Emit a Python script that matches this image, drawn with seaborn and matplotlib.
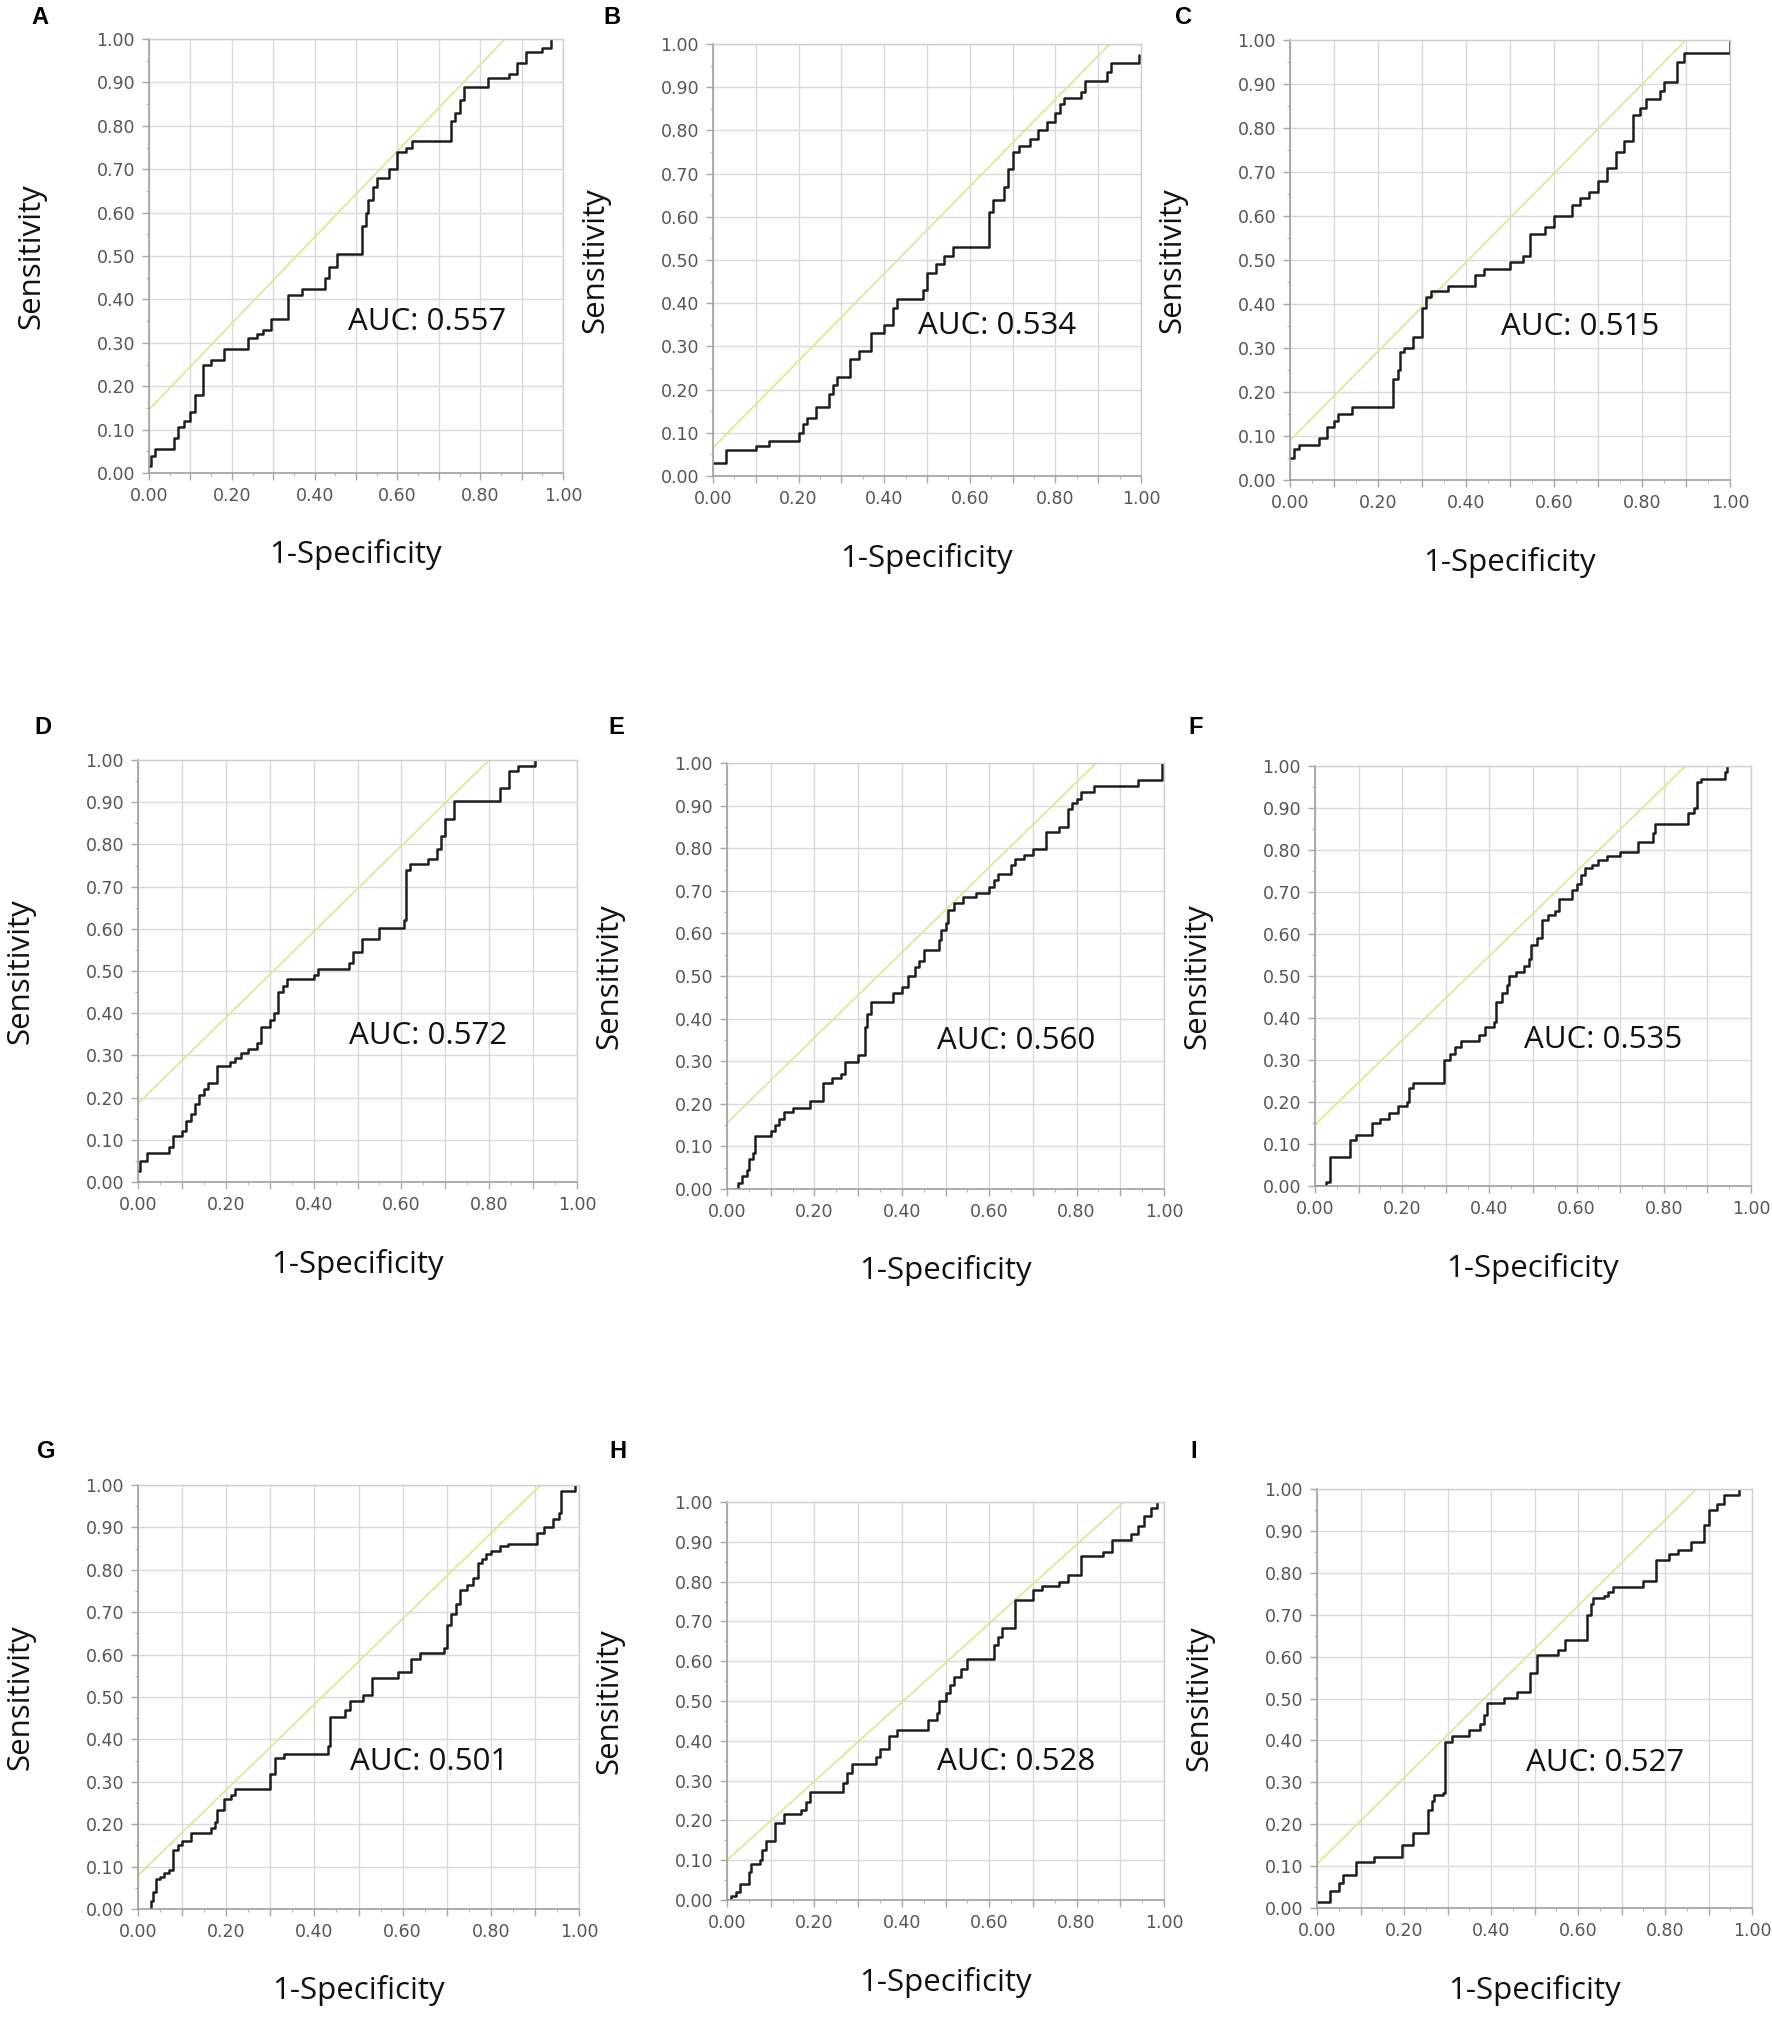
import matplotlib
matplotlib.use("Agg")
import matplotlib.pyplot as plt
from matplotlib.ticker import MultipleLocator, FixedLocator
import seaborn as sns

sns.set_theme(style="white")
plt.rcParams['font.family'] = ['Open Sans', 'DejaVu Sans']

# ---- data (step vertices: fpr, tpr) ----
panel_ids = ["A", "B", "C", "D", "E", "F", "G", "H", "I"]
auc_labels = ["0.557", "0.534", "0.515", "0.572", "0.560", "0.535", "0.501", "0.528", "0.527"]

fpr_a = [0.00, 0.005, 0.015, 0.06, 0.07, 0.085, 0.10, 0.11, 0.13, 0.15, 0.18, 0.24, 0.26, 0.275, 0.295,
         0.335, 0.37, 0.425, 0.435, 0.455, 0.515, 0.525, 0.53, 0.54, 0.55, 0.58, 0.60, 0.62, 0.635,
         0.73, 0.74, 0.75, 0.76, 0.82, 0.87, 0.89, 0.91, 0.95, 0.97]
tpr_a = [0.015, 0.04, 0.055, 0.08, 0.105, 0.12, 0.14, 0.18, 0.25, 0.26, 0.285, 0.31, 0.32, 0.33, 0.355,
         0.41, 0.425, 0.45, 0.475, 0.505, 0.57, 0.60, 0.63, 0.66, 0.68, 0.70, 0.74, 0.75, 0.765,
         0.81, 0.83, 0.86, 0.89, 0.91, 0.92, 0.945, 0.97, 0.98, 1.00]

fpr_b = [0.00, 0.03, 0.10, 0.13, 0.20, 0.21, 0.22, 0.24, 0.27, 0.28, 0.29, 0.32, 0.34, 0.37, 0.40, 0.42,
         0.43, 0.49, 0.50, 0.52, 0.54, 0.56, 0.645, 0.655, 0.68, 0.69, 0.70, 0.715, 0.74, 0.76, 0.78,
         0.80, 0.81, 0.82, 0.86, 0.87, 0.92, 0.93, 0.995]
tpr_b = [0.03, 0.06, 0.07, 0.08, 0.10, 0.12, 0.135, 0.16, 0.19, 0.21, 0.23, 0.27, 0.29, 0.33, 0.35, 0.39,
         0.41, 0.43, 0.47, 0.49, 0.51, 0.53, 0.61, 0.64, 0.67, 0.71, 0.75, 0.765, 0.78, 0.80, 0.82,
         0.84, 0.86, 0.875, 0.89, 0.915, 0.935, 0.955, 0.975]

fpr_c = [0.00, 0.01, 0.02, 0.065, 0.085, 0.10, 0.11, 0.14, 0.235, 0.245, 0.25, 0.26, 0.28, 0.30, 0.31,
         0.32, 0.36, 0.42, 0.44, 0.50, 0.53, 0.545, 0.58, 0.60, 0.64, 0.66, 0.68, 0.70, 0.72, 0.74,
         0.76, 0.78, 0.795, 0.81, 0.84, 0.85, 0.88, 0.895, 1.00]
tpr_c = [0.05, 0.07, 0.08, 0.095, 0.12, 0.135, 0.15, 0.165, 0.23, 0.25, 0.29, 0.30, 0.325, 0.39, 0.415,
         0.43, 0.44, 0.465, 0.48, 0.495, 0.51, 0.56, 0.575, 0.60, 0.625, 0.64, 0.655, 0.68, 0.71, 0.745,
         0.77, 0.83, 0.845, 0.865, 0.885, 0.905, 0.95, 0.97, 1.00]

fpr_d = [0.00, 0.005, 0.02, 0.07, 0.08, 0.10, 0.11, 0.12, 0.13, 0.14, 0.15, 0.16, 0.18, 0.21, 0.22,
         0.235, 0.25, 0.27, 0.28, 0.30, 0.31, 0.32, 0.33, 0.34, 0.40, 0.41, 0.48, 0.49, 0.51, 0.55,
         0.605, 0.61, 0.62, 0.66, 0.68, 0.69, 0.70, 0.72, 0.825, 0.845, 0.865, 0.905]
tpr_d = [0.025, 0.05, 0.068, 0.082, 0.11, 0.12, 0.145, 0.16, 0.185, 0.205, 0.22, 0.235, 0.275, 0.285,
         0.295, 0.305, 0.315, 0.33, 0.367, 0.385, 0.40, 0.45, 0.465, 0.48, 0.49, 0.505, 0.52, 0.545,
         0.576, 0.603, 0.62, 0.739, 0.754, 0.765, 0.79, 0.82, 0.861, 0.902, 0.934, 0.975, 0.985, 1.00]

fpr_e = [0.015, 0.025, 0.035, 0.045, 0.05, 0.06, 0.065, 0.10, 0.11, 0.12, 0.13, 0.15, 0.19, 0.22, 0.24,
         0.26, 0.27, 0.30, 0.315, 0.32, 0.33, 0.38, 0.40, 0.415, 0.43, 0.44, 0.45, 0.485, 0.49, 0.50,
         0.505, 0.52, 0.54, 0.57, 0.60, 0.61, 0.62, 0.65, 0.66, 0.68, 0.70, 0.73, 0.76, 0.78, 0.79,
         0.80, 0.81, 0.84, 0.94, 0.995]
tpr_e = [0.00, 0.015, 0.03, 0.045, 0.07, 0.085, 0.124, 0.135, 0.151, 0.165, 0.18, 0.191, 0.207, 0.25,
         0.26, 0.27, 0.299, 0.315, 0.38, 0.41, 0.438, 0.461, 0.475, 0.501, 0.52, 0.535, 0.56, 0.585,
         0.609, 0.625, 0.654, 0.672, 0.685, 0.695, 0.71, 0.725, 0.74, 0.76, 0.775, 0.785, 0.798,
         0.838, 0.85, 0.892, 0.905, 0.915, 0.933, 0.946, 0.96, 1.00]

fpr_f = [0.00, 0.025, 0.035, 0.08, 0.095, 0.13, 0.15, 0.17, 0.19, 0.21, 0.215, 0.225, 0.295, 0.31, 0.32,
         0.335, 0.375, 0.39, 0.41, 0.415, 0.43, 0.44, 0.445, 0.46, 0.48, 0.49, 0.495, 0.51, 0.52,
         0.535, 0.55, 0.56, 0.59, 0.60, 0.61, 0.62, 0.635, 0.65, 0.67, 0.70, 0.74, 0.775, 0.78, 0.855,
         0.87, 0.875, 0.885, 0.94, 0.945]
tpr_f = [0.00, 0.01, 0.07, 0.109, 0.121, 0.15, 0.16, 0.175, 0.19, 0.20, 0.234, 0.246, 0.30, 0.315, 0.33,
         0.346, 0.36, 0.378, 0.39, 0.437, 0.46, 0.478, 0.50, 0.51, 0.525, 0.54, 0.574, 0.59, 0.633,
         0.645, 0.655, 0.683, 0.705, 0.72, 0.74, 0.756, 0.765, 0.775, 0.785, 0.795, 0.82, 0.84, 0.861,
         0.888, 0.90, 0.961, 0.97, 0.985, 1.00]

fpr_g = [0.025, 0.03, 0.035, 0.04, 0.05, 0.06, 0.07, 0.08, 0.09, 0.10, 0.12, 0.165, 0.175, 0.18, 0.195,
         0.21, 0.22, 0.30, 0.31, 0.33, 0.43, 0.435, 0.47, 0.48, 0.51, 0.53, 0.59, 0.62, 0.64, 0.695,
         0.70, 0.71, 0.72, 0.73, 0.745, 0.76, 0.77, 0.78, 0.79, 0.80, 0.82, 0.84, 0.905, 0.92, 0.94,
         0.955, 0.96, 0.99]
tpr_g = [0.00, 0.02, 0.04, 0.07, 0.075, 0.085, 0.093, 0.138, 0.15, 0.16, 0.179, 0.19, 0.205, 0.233, 0.26,
         0.27, 0.284, 0.319, 0.356, 0.365, 0.385, 0.454, 0.47, 0.49, 0.505, 0.544, 0.56, 0.589, 0.603,
         0.615, 0.67, 0.695, 0.72, 0.752, 0.765, 0.78, 0.815, 0.825, 0.837, 0.845, 0.855, 0.86, 0.887,
         0.90, 0.92, 0.935, 0.987, 1.00]

fpr_h = [0.00, 0.01, 0.02, 0.03, 0.05, 0.055, 0.075, 0.08, 0.09, 0.11, 0.13, 0.17, 0.18, 0.19, 0.265,
         0.275, 0.285, 0.34, 0.35, 0.37, 0.39, 0.46, 0.48, 0.485, 0.50, 0.51, 0.52, 0.535, 0.55, 0.61,
         0.62, 0.63, 0.66, 0.70, 0.72, 0.76, 0.78, 0.81, 0.86, 0.88, 0.925, 0.94, 0.955, 0.97, 0.985]
tpr_h = [0.00, 0.01, 0.02, 0.04, 0.07, 0.091, 0.10, 0.125, 0.149, 0.194, 0.216, 0.225, 0.245, 0.271,
         0.295, 0.32, 0.341, 0.36, 0.38, 0.413, 0.428, 0.452, 0.47, 0.50, 0.52, 0.54, 0.56, 0.58, 0.606,
         0.64, 0.66, 0.683, 0.755, 0.78, 0.788, 0.80, 0.817, 0.865, 0.875, 0.904, 0.92, 0.94, 0.965,
         0.985, 1.00]

fpr_i = [0.00, 0.03, 0.05, 0.06, 0.09, 0.13, 0.195, 0.22, 0.255, 0.265, 0.27, 0.29, 0.295, 0.31, 0.35,
         0.375, 0.385, 0.39, 0.43, 0.46, 0.49, 0.505, 0.555, 0.57, 0.62, 0.63, 0.635, 0.66, 0.67, 0.68,
         0.75, 0.78, 0.81, 0.83, 0.86, 0.89, 0.90, 0.92, 0.935, 0.97]
tpr_i = [0.014, 0.041, 0.06, 0.079, 0.11, 0.121, 0.151, 0.18, 0.233, 0.255, 0.269, 0.275, 0.397, 0.41,
         0.425, 0.44, 0.46, 0.49, 0.502, 0.516, 0.562, 0.603, 0.615, 0.639, 0.699, 0.725, 0.74, 0.745,
         0.755, 0.767, 0.78, 0.831, 0.845, 0.855, 0.873, 0.913, 0.95, 0.965, 0.986, 1.00]

# yellow reference line: sensitivity at fpr=0, and fpr where it reaches 1.0
ref_start = [0.146, 0.065, 0.09, 0.186, 0.155, 0.146, 0.079, 0.10, 0.105]
ref_end = [0.86, 0.927, 0.90, 0.80, 0.845, 0.85, 0.913, 0.908, 0.872]

tick_vals = [0.0, 0.1, 0.2, 0.3, 0.4, 0.5, 0.6, 0.7, 0.8, 0.9, 1.0]

fprs = [fpr_a, fpr_b, fpr_c, fpr_d, fpr_e, fpr_f, fpr_g, fpr_h, fpr_i]
tprs = [tpr_a, tpr_b, tpr_c, tpr_d, tpr_e, tpr_f, tpr_g, tpr_h, tpr_i]

# ---- layout (pixel boxes: left, top, right, bottom) ----
W, H = 1772, 2034
boxes = [(149, 39, 563, 473), (713, 44, 1141, 476), (1290, 40, 1730, 480),
         (138, 760, 577, 1182), (727, 763, 1164, 1189), (1315, 766, 1751, 1186),
         (138, 1485, 579, 1909), (727, 1502, 1164, 1900), (1317, 1489, 1752, 1908)]
letter_pos = [(40, 17), (612, 17), (1184, 17), (43, 727), (616, 727), (1196, 727),
              (46, 1452), (618, 1452), (1194, 1452)]

fig = plt.figure(figsize=(W / 100, H / 100), dpi=100)
fig.patch.set_facecolor("white")

for k in range(9):
    l, t, r, b = boxes[k]
    ax = fig.add_axes([l / W, 1 - b / H, (r - l) / W, (b - t) / H])
    ax.set_facecolor("white")

    sns.lineplot(x=[0.0, ref_end[k]], y=[ref_start[k], 1.0], ax=ax, color="#e2e696", lw=1.3)
    sns.lineplot(x=fprs[k], y=tprs[k], ax=ax, color="#1e1e1e", lw=1.8,
                 sort=False, estimator=None, drawstyle="steps-post")

    ax.set_xlim(0, 1)
    ax.set_ylim(0, 1)
    ax.xaxis.set_major_locator(FixedLocator(tick_vals))
    ax.yaxis.set_major_locator(FixedLocator(tick_vals))
    ax.set_xticklabels([f"{v:.2f}" if i % 2 == 0 else "" for i, v in enumerate(tick_vals)])
    ax.set_yticklabels([f"{v:.2f}" for v in tick_vals])
    ax.xaxis.set_minor_locator(MultipleLocator(0.05))
    ax.yaxis.set_minor_locator(MultipleLocator(0.05))
    ax.grid(True, which="major", color="#dadada", lw=1.0)
    ax.set_axisbelow(True)
    ax.tick_params(which="major", direction="out", length=5, width=1, color="#a8a8a8",
                   labelsize=12.5, labelcolor="#555555", pad=5, bottom=True, left=True)
    ax.tick_params(which="minor", direction="out", length=2.5, width=0.8, color="#bbbbbb",
                   bottom=True, left=True)
    for lab in ax.get_xticklabels() + ax.get_yticklabels():
        lab.set_family("DejaVu Sans")
    for side in ["left", "bottom"]:
        ax.spines[side].set_color("#a0a0a0")
        ax.spines[side].set_linewidth(1.2)
    for side in ["top", "right"]:
        ax.spines[side].set_color("#cfcfcf")
        ax.spines[side].set_linewidth(1.0)

    w_px, h_px = r - l, b - t
    ax.set_xlabel("1-Specificity", fontsize=22.5, color="#111111")
    ax.xaxis.set_label_coords(0.5, -82 / h_px)
    ax.xaxis.label.set_va("center")
    ax.set_ylabel("Sensitivity", fontsize=22.5, color="#111111")
    ax.yaxis.set_label_coords(-118 / w_px, 0.5)
    ax.yaxis.label.set_va("center")

    ax.text(0.48, 0.347, f"AUC: {auc_labels[k]}", transform=ax.transAxes,
            ha="left", va="center", fontsize=22.5, color="#111111")

    lx, ly = letter_pos[k]
    fig.text(lx / W, 1 - ly / H, panel_ids[k], ha="center", va="center",
             fontsize=17, fontweight="bold", family="Liberation Sans", color="black")

fig.savefig("out.png", dpi=100, facecolor="white")
